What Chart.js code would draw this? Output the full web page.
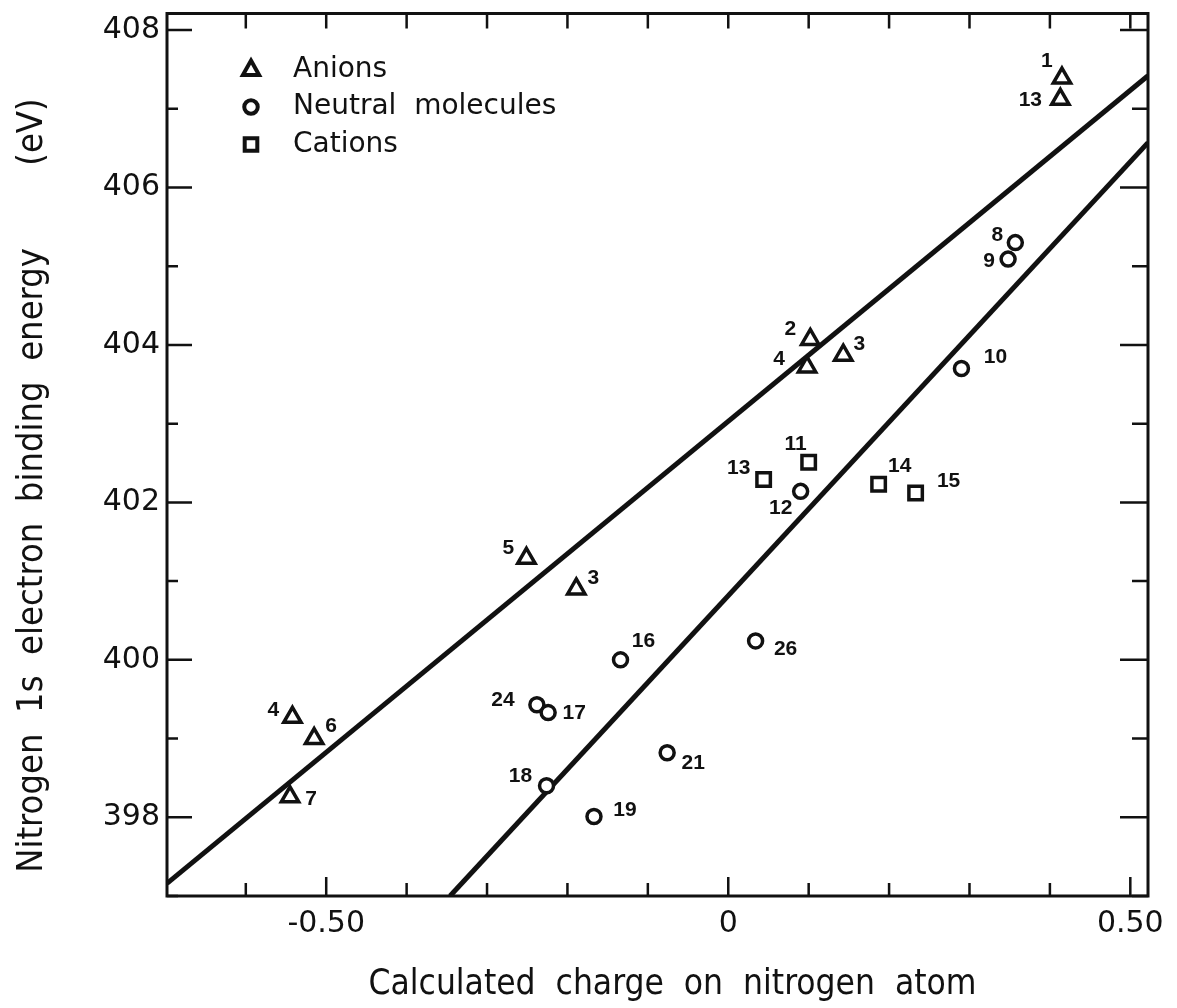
<!DOCTYPE html>
<html>
<head>
<meta charset="utf-8">
<script src="https://cdn.jsdelivr.net/npm/chart.js@4.4.0/dist/chart.umd.min.js"></script>
<style>
  body { margin: 0; background: #fff; }
  #wrap { width: 1177px; height: 1008px; }
</style>
</head>
<body>
<div id="wrap"><canvas id="grafico" width="1177" height="1008"></canvas></div>
<script>
// anions (triangles)
const anionCharge = [0.415, 0.413, 0.102, 0.098, 0.143, -0.251, -0.189, -0.542, -0.515, -0.545];
const anionEnergy = [407.39, 407.12, 404.07, 403.72, 403.87, 401.29, 400.90, 399.27, 399.00, 398.26];
const anionNumbers = ['1', '13', '2', '4', '3', '5', '3', '4', '6', '7'];

// neutral molecules (circles)
const neutralCharge = [0.357, 0.348, 0.290, 0.090, -0.134, 0.034, -0.238, -0.224, -0.226, -0.167, -0.076];
const neutralEnergy = [405.30, 405.09, 403.70, 402.14, 400.00, 400.24, 399.43, 399.33, 398.40, 398.01, 398.82];
const neutralNumbers = ['8', '9', '10', '12', '16', '26', '24', '17', '18', '19', '21'];

// cations (squares)
const cationCharge = [0.100, 0.044, 0.187, 0.233];
const cationEnergy = [402.51, 402.29, 402.23, 402.12];
const cationNumbers = ['11', '13', '14', '15'];

// the two straight lines
const upperLineCharge = [-0.698, 0.522];
const upperLineEnergy = [397.16, 407.42];
const lowerLineCharge = [-0.346, 0.522];
const lowerLineEnergy = [397.0, 406.57];

// tick labels
const xLabelValues = [-0.5, 0, 0.5];
const xLabelTexts = ['-0.50', '0', '0.50'];
const yLabelValues = [398, 400, 402, 404, 406, 408];
const yLabelTexts = ['398', '400', '402', '404', '406', '408'];

// where each number sits next to its marker (px)
const anionNumberOffsets = [[-15, -17], [-30, 1], [-20, -10], [-28, -8], [16, -11], [-18, -10], [17, -11], [-19, -7], [17, -12], [21, 2]];
const neutralNumberOffsets = [[-18, -7], [-19, 2], [34, -11], [-20, 17], [23, -19], [30, 8], [-34, -4], [26, 1], [-26, -10], [31, -6], [26, 10]];
const cationNumberOffsets = [[-13, -18], [-25, -11], [21, -18], [33, -12]];

function toPoints(xs, ys) {
  return xs.map((v, i) => ({ x: v, y: ys[i] }));
}

function drawMarker(ctx, style, x, y, r) {
  ctx.beginPath();
  if (style === 'triangle') {
    ctx.moveTo(x, y - r);
    ctx.lineTo(x + r * 0.9, y + r * 0.6);
    ctx.lineTo(x - r * 0.9, y + r * 0.6);
    ctx.closePath();
  } else if (style === 'circle') {
    ctx.arc(x, y, r * 0.75, 0, Math.PI * 2);
  } else {
    ctx.rect(x - r * 0.7, y - r * 0.7, r * 1.4, r * 1.4);
  }
  ctx.fill();
  ctx.stroke();
}

const frameAndLabels = {
  id: 'frameAndLabels',
  afterDraw(chart) {
    const { ctx, chartArea: a, scales: { x, y } } = chart;
    ctx.save();
    ctx.strokeStyle = '#111';
    ctx.lineWidth = 3;
    ctx.strokeRect(a.left, a.top, a.right - a.left, a.bottom - a.top);

    // ticks pointing inwards, on all four sides
    ctx.lineWidth = 2.5;
    ctx.beginPath();
    x.ticks.forEach(t => {
      const px = x.getPixelForValue(t.value);
      const major = Math.abs(Math.round(t.value * 10)) % 5 === 0;
      ctx.moveTo(px, a.bottom);
      ctx.lineTo(px, a.bottom - (major ? 19 : 13));
      ctx.moveTo(px, a.top);
      ctx.lineTo(px, a.top + 15);
    });
    y.ticks.forEach(t => {
      const py = y.getPixelForValue(t.value);
      const major = Math.round(t.value) % 2 === 0;
      ctx.moveTo(a.left, py);
      ctx.lineTo(a.left + (major ? 25 : 11), py);
      ctx.moveTo(a.right, py);
      ctx.lineTo(a.right - (major ? 28 : 16), py);
    });
    ctx.stroke();

    // numbers beside the markers
    const groups = [
      [1, anionNumbers, anionNumberOffsets],
      [2, neutralNumbers, neutralNumberOffsets],
      [3, cationNumbers, cationNumberOffsets]
    ];
    ctx.fillStyle = '#111';
    ctx.font = 'bold 21px "Liberation Sans", Arial, sans-serif';
    ctx.textAlign = 'center';
    ctx.textBaseline = 'middle';
    groups.forEach(([di, texts, offs]) => {
      chart.getDatasetMeta(di).data.forEach((el, i) => {
        ctx.fillText(texts[i], el.x + offs[i][0], el.y + offs[i][1]);
      });
    });

    // legend inside the plot
    ctx.font = '28px "DejaVu Sans", sans-serif';
    ctx.textAlign = 'left';
    [1, 2, 3].forEach((di, k) => {
      const ds = chart.data.datasets[di];
      const cy = a.top + 56 + k * 37.5;
      ctx.lineWidth = 4;
      ctx.fillStyle = '#fff';
      drawMarker(ctx, ds.pointStyle, a.left + 84, cy, 9);
      ctx.fillStyle = '#111';
      ctx.fillText(ds.label, a.left + 126, cy);
    });
    ctx.restore();
  }
};

const markerBase = {
  borderColor: '#111',
  backgroundColor: '#fff',
  pointBorderWidth: 3.5,
  pointBackgroundColor: '#fff',
  pointBorderColor: '#111'
};

const chart = new Chart(document.getElementById('grafico'), {
  type: 'scatter',
  data: {
    datasets: [
      {
        label: 'upper',
        data: toPoints(upperLineCharge, upperLineEnergy),
        showLine: true, pointRadius: 0, borderColor: '#111', borderWidth: 5
      },
      Object.assign({
        label: 'Anions',
        data: toPoints(anionCharge, anionEnergy),
        pointStyle: 'triangle', pointRadius: 10
      }, markerBase),
      Object.assign({
        label: 'Neutral  molecules',
        data: toPoints(neutralCharge, neutralEnergy),
        pointStyle: 'circle', pointRadius: 7
      }, markerBase),
      Object.assign({
        label: 'Cations',
        data: toPoints(cationCharge, cationEnergy),
        pointStyle: 'rect', pointRadius: 9.5
      }, markerBase),
      {
        label: 'lower',
        data: toPoints(lowerLineCharge, lowerLineEnergy),
        showLine: true, pointRadius: 0, borderColor: '#111', borderWidth: 5
      }
    ]
  },
  options: {
    responsive: false,
    animation: false,
    devicePixelRatio: 1,
    layout: { padding: { top: 10, right: 29, left: 0, bottom: 0 } },
    plugins: { legend: { display: false }, tooltip: { enabled: false } },
    scales: {
      x: {
        type: 'linear',
        min: -0.698, max: 0.522,
        afterFit: s => { s.height = 112; s.paddingLeft = 0; s.paddingRight = 0; },
        grid: { display: false, drawTicks: false },
        border: { display: false },
        ticks: {
          stepSize: 0.1, includeBounds: false, autoSkip: false, maxRotation: 0,
          padding: 10, color: '#111',
          font: { family: '"DejaVu Sans", sans-serif', size: 30 },
          callback: v => {
            const k = xLabelValues.findIndex(t => Math.abs(t - v) < 1e-6);
            return k >= 0 ? xLabelTexts[k] : '';
          }
        },
        title: {
          display: true,
          text: '   Calculated  charge  on  nitrogen  atom',
          color: '#111',
          padding: { top: 2, bottom: 2 },
          font: { family: '"DejaVu Sans Condensed", "DejaVu Sans", sans-serif', size: 35 }
        }
      },
      y: {
        type: 'linear',
        min: 397.0, max: 408.21,
        afterFit: s => { s.width = 167; s.paddingTop = 0; s.paddingBottom = 0; },
        grid: { display: false, drawTicks: false },
        border: { display: false },
        ticks: {
          stepSize: 1, includeBounds: false, autoSkip: false,
          padding: 7, color: '#111',
          font: { family: '"DejaVu Sans", sans-serif', size: 30 },
          callback: v => {
            const k = yLabelValues.findIndex(t => Math.abs(t - v) < 1e-6);
            return k >= 0 ? yLabelTexts[k] : '';
          }
        },
        title: {
          display: true,
          text: 'Nitrogen  1s  electron  binding  energy        (eV)      ',
          color: '#111',
          padding: { top: 11, bottom: 11 },
          font: { family: '"DejaVu Sans Condensed", "DejaVu Sans", sans-serif', size: 36 }
        }
      }
    }
  },
  plugins: [frameAndLabels]
});
</script>
</body>
</html>
